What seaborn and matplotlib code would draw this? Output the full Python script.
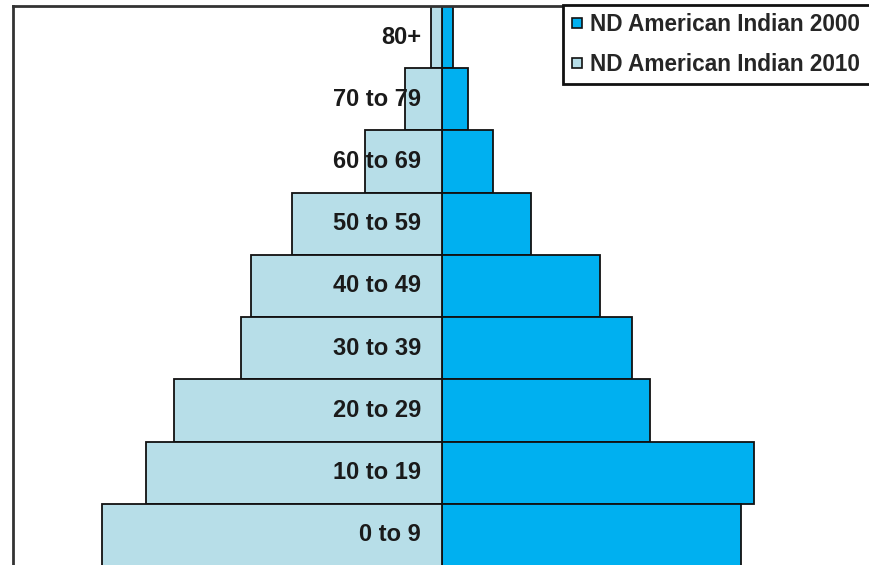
import matplotlib
matplotlib.use("Agg")
import matplotlib.pyplot as plt
import matplotlib.transforms as mtransforms
from matplotlib.lines import Line2D
import pandas as pd
import seaborn as sns

# Age groups, oldest at the top of the pyramid
age_groups = ["80+", "70 to 79", "60 to 69", "50 to 59", "40 to 49",
              "30 to 39", "20 to 29", "10 to 19", "0 to 9"]

# North Dakota American Indian population by age group
pop_2000 = [255, 605, 1190, 2075, 3680, 4430, 4850, 7270, 6970]
pop_2010 = [245, 860, 1795, 3495, 4450, 4685, 6245, 6900, 7925]

series_names = ["ND American Indian 2000", "ND American Indian 2010"]
series_colors = ["#00b0f0", "#b7dee8"]

sns.set_theme(style="white")
plt.rcParams["font.family"] = ["Liberation Sans", "DejaVu Sans"]

# 2010 drawn to the left of the centre line, 2000 to the right
df = pd.DataFrame({
    "age": age_groups * 2,
    "population": pop_2000 + [-v for v in pop_2010],
    "series": [series_names[0]] * len(age_groups) + [series_names[1]] * len(age_groups),
})

fig = plt.figure(figsize=(8.69, 5.65), dpi=100)
ax = fig.add_axes([13 / 869, -1 / 565, 858 / 869, 560 / 565])

sns.barplot(data=df, y="age", x="population", hue="series",
            order=age_groups, hue_order=series_names,
            palette=series_colors, saturation=1, dodge=False, width=1.0,
            errorbar=None, edgecolor="#111111", linewidth=1.3,
            legend=False, ax=ax)

ax.set_xlim(-10000, 10000)
ax.set_ylim(len(age_groups) - 0.5, -0.5)
ax.set_xlabel("")
ax.set_ylabel("")
ax.set_xticks([])
ax.set_yticks([])

for side in ["top", "left", "right"]:
    ax.spines[side].set_visible(True)
    ax.spines[side].set_color("#333333")
    ax.spines[side].set_linewidth(2.0)
ax.spines["bottom"].set_visible(False)

# Category labels sit just left of the centre line
label_trans = mtransforms.offset_copy(ax.transData, fig=fig, x=-21, y=0, units="dots")
for i, name in enumerate(age_groups):
    ax.text(0, i, name, transform=label_trans, ha="right", va="center",
            fontsize=17, fontweight="bold", color="#1a1a1a")

handles = [Line2D([], [], linestyle="none", marker="s", markersize=7.5,
                  markerfacecolor=c, markeredgecolor="#111111", markeredgewidth=1.2)
           for c in series_colors]
leg = fig.legend(handles, series_names, loc="upper left", mode="expand",
                 bbox_to_anchor=(563 / 869, 0, 340 / 869, 1 - 5 / 565),
                 bbox_transform=fig.transFigure, borderaxespad=0,
                 frameon=True, fancybox=False, framealpha=1,
                 edgecolor="#111111", borderpad=0.34, labelspacing=0.76,
                 handlelength=0.6, handletextpad=0.25,
                 prop={"size": 16.3, "weight": "bold"})
leg.get_frame().set_linewidth(2.0)

fig.savefig("out.png", dpi=100)
